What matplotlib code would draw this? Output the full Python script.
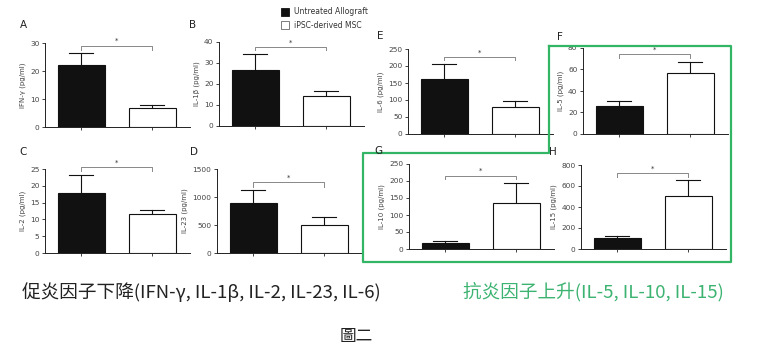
import matplotlib
matplotlib.use("Agg")
import matplotlib.pyplot as plt
from matplotlib.patches import Rectangle
from matplotlib.lines import Line2D

plt.rcParams['font.family'] = ['Noto Sans CJK TC', 'DejaVu Sans']

# ---- data ----
groups = ["Untreated Allograft", "iPSC-derived MSC"]
panel_letters = ["A", "B", "C", "D", "E", "F", "G", "H"]
ylabels = ["IFN-γ (pg/ml)", "IL-1β (pg/ml)", "IL-2 (pg/ml)", "IL-23 (pg/ml)",
           "IL-6 (pg/ml)", "IL-5 (pg/ml)", "IL-10 (pg/ml)", "IL-15 (pg/ml)"]
means_untreated = [22.3, 26.7, 18.0, 900, 162, 26.2, 18.6, 101]
means_msc = [6.7, 14.5, 11.5, 505, 80, 57.2, 136, 506]
err_untreated = [4.0, 7.4, 5.1, 222, 43, 4.4, 3.9, 23]
err_msc = [1.0, 2.3, 1.4, 137, 17, 10.0, 59, 152]
y_max = [30, 40, 25, 1500, 250, 80, 250, 800]
y_step = [10, 10, 5, 500, 50, 20, 50, 200]
sig_level = [29.0, 37.6, 25.5, 1262, 227, 74.4, 216, 722]
sig_drop = [1.5, 1.6, 1.2, 82, 9, 3.4, 11, 32]
caption_pro = "促炎因子下降(IFN-γ, IL-1β, IL-2, IL-23, IL-6)"
caption_anti = "抗炎因子上升(IL-5, IL-10, IL-15)"
figure_title = "圖二"

W, H = 757, 354
fig = plt.figure(figsize=(W / 100, H / 100), dpi=100)

# layout in pixels: (y-axis x, y of zero, y of top)
layout = [(45, 127, 43), (219, 126, 42), (45, 253, 169), (217, 253, 169),
          (408, 134, 49), (583, 134, 48), (409, 249, 164), (581, 249, 165)]
letter_pos = [(23, 25), (193, 25), (23, 152), (194, 152),
              (380, 36), (560, 37), (378, 151), (553, 152)]

spacing = 71.0
xl = (-0.51, 1.53)
bw = 0.66
axcol = '#222222'

for i in range(8):
    ax_x, y0, yt = layout[i]
    wpx = (xl[1] - xl[0]) * spacing
    ax = fig.add_axes([ax_x / W, 1 - y0 / H, wpx / W, (y0 - yt) / H])
    ax.set_xlim(*xl)
    ax.set_ylim(0, y_max[i])
    vals = [means_untreated[i], means_msc[i]]
    errs = [err_untreated[i], err_msc[i]]
    ax.bar([0, 1], vals, width=bw, color=['#111111', 'white'],
           edgecolor='#111111', linewidth=0.8, zorder=2)
    for x, v, e in zip([0, 1], vals, errs):
        ax.plot([x, x], [v, v + e], color='#111111', lw=0.8, zorder=1)
        ax.plot([x - bw / 4, x + bw / 4], [v + e, v + e], color='#111111', lw=0.8, zorder=1)
    s, d = sig_level[i], sig_drop[i]
    ax.plot([0, 0, 1, 1], [s - d, s, s, s - d], color='#888888', lw=0.7, clip_on=False)
    ax.text(0.5, s + d * 0.4, '*', ha='center', va='bottom', fontsize=5,
            color='#333333', family='DejaVu Sans')
    for sp in ['top', 'right']:
        ax.spines[sp].set_visible(False)
    for sp in ['left', 'bottom']:
        ax.spines[sp].set_color(axcol)
        ax.spines[sp].set_linewidth(0.7)
    ax.set_xticks([0, 1])
    ax.set_xticklabels([])
    ax.set_yticks(range(0, y_max[i] + 1, y_step[i]))
    ax.tick_params(axis='both', direction='out', length=2.5, width=0.6,
                   color=axcol, labelsize=5.3, labelcolor='#444444', pad=1.5)
    for lab in ax.get_yticklabels():
        lab.set_family('DejaVu Sans')
    ax.set_ylabel(ylabels[i], fontsize=5, color='#444444', labelpad=3,
                  family='DejaVu Sans')
    ax.patch.set_alpha(0)
    lx, ly = letter_pos[i]
    fig.text(lx / W, 1 - ly / H, panel_letters[i], fontsize=7.5, color='#222222',
             ha='center', va='center', family='DejaVu Sans')

# legend
fig.patches.append(Rectangle((281 / W, 1 - 16 / H), 8 / W, 8 / H, transform=fig.transFigure,
                             facecolor='#111111', edgecolor='#111111', lw=0.6))
fig.patches.append(Rectangle((281 / W, 1 - 29 / H), 8 / W, 8 / H, transform=fig.transFigure,
                             facecolor='white', edgecolor='#666666', lw=0.6))
fig.text(294 / W, 1 - 12 / H, groups[0], fontsize=5.5, va='center', color='#333333',
         family='DejaVu Sans')
fig.text(294 / W, 1 - 25 / H, groups[1], fontsize=5.5, va='center', color='#333333',
         family='DejaVu Sans')

# green outline
green = '#33b566'
px = [549, 731, 731, 363, 363, 549, 549]
py = [46, 46, 262, 262, 153, 153, 46]
fig.lines.append(Line2D([x / W for x in px], [1 - y / H for y in py],
                        transform=fig.transFigure, color=green, lw=1.6))

# captions
fig.text(22 / W, 1 - 292 / H, caption_pro, fontsize=13.4, color='#222222',
         ha='left', va='center')
fig.text(463 / W, 1 - 292 / H, caption_anti, fontsize=13.4, color='#3cb371',
         ha='left', va='center')
fig.text(356 / W, 1 - 336 / H, figure_title, fontsize=12, color='#222222',
         ha='center', va='center')

fig.savefig('out.png', dpi=100)
